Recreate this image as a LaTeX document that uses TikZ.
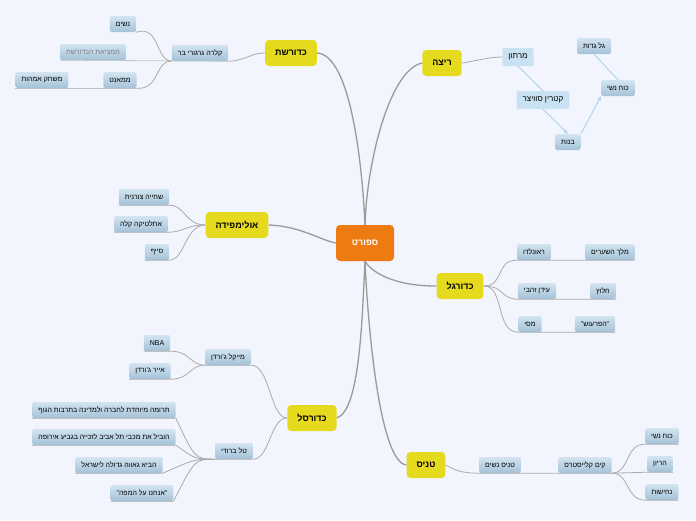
\documentclass[tikz,border=0pt]{standalone}
\usepackage{fontspec}
\setmainfont{Liberation Sans}[Script=Hebrew]
\TeXXeTstate=1
\newcommand\heb[1]{\beginR #1\endR}
\usetikzlibrary{arrows.meta}
\definecolor{bg}{HTML}{F3F5FE}
\definecolor{yel}{HTML}{E6DA1E}
\definecolor{org}{HTML}{EE7A12}
\definecolor{lb}{HTML}{C8E2F3}
\definecolor{ltop}{HTML}{D3E4F0}
\definecolor{lbot}{HTML}{A4C2D8}
\definecolor{lline}{HTML}{A9D3EC}
\definecolor{gline}{HTML}{ABABAB}
\tikzset{
 x=1pt,y=-1pt,
 center/.style={fill=org,rounded corners=4pt,minimum width=58pt,minimum height=36pt,text=white,font=\bfseries\fontsize{9}{10}\selectfont},
 main/.style={fill=yel,rounded corners=4pt,minimum height=26pt,inner xsep=10pt,font=\bfseries\fontsize{9}{10}\selectfont},
 leaf/.style={top color=ltop,bottom color=lbot,rounded corners=2pt,minimum height=16pt,inner xsep=6pt,font=\fontsize{7}{8}\selectfont},
 light/.style={fill=lb,rounded corners=2pt,minimum height=18pt,inner xsep=6pt,font=\fontsize{8}{9}\selectfont},
 conn/.style={draw=gline,line width=0.8pt},
 thick conn/.style={draw=gline!90!black,line width=1.3pt},
 uline/.style={draw=gline!70,line width=0.8pt},
 bl/.style={draw=lline,line width=0.9pt},
 bla/.style={bl,-{Stealth[length=5pt]}},
}
\begin{document}
\begin{tikzpicture}
\fill[bg] (0,0) rectangle (696,520);
\useasboundingbox (0,0) rectangle (696,520);
% center and main topics
\node[center] (c) at (365,243) {\heb{ספורט}};
\node[main] (run) at (442,63) {\heb{ריצה}};
\node[main] (kd) at (291,53) {\heb{כדורשת}};
\node[main] (ol) at (237,225) {\heb{אולימפידה}};
\node[main] (fb) at (460,286) {\heb{כדורגל}};
\node[main] (bb) at (312,418) {\heb{כדורסל}};
\node[main] (tn) at (426,465) {\heb{טניס}};
\draw[thick conn] (c.north) .. controls (367,160) and (390,70) .. (run.west);
\draw[thick conn] (c.north) .. controls (362,160) and (350,55) .. (kd.east);
\draw[thick conn] (c.west) .. controls (320,240) and (300,226) .. (ol.east);
\draw[thick conn] (c.south) .. controls (370,270) and (390,286) .. (fb.west);
\draw[thick conn] (c.south) .. controls (362,320) and (360,410) .. (bb.east);
\draw[thick conn] (c.south) .. controls (368,330) and (380,462) .. (tn.west);
% running
\node[light] (mr) at (518,57) {\heb{מרתון}};
\node[light] (kt) at (543,100) {\heb{קטרין סוויצר}};
\node[leaf] (bn) at (568,142) {\heb{בנות}};
\node[leaf] (kn) at (618,88) {\heb{כוח נשי}};
\node[leaf] (gg) at (594,46) {\heb{גל גדות}};
\draw[conn] (run.east) .. controls (480,60) and (490,57) .. (mr.west);
\draw[bl] (mr.south) -- (kt.north);
\draw[bla] (kt.south) -- (bn.north);
\draw[bla] (bn.north east) -- (kn.south west);
\draw[bl] (kn.north) -- (gg.south);
% kadureshet
\node[leaf] (kl) at (200,53) {\heb{קלרה גרגורי בר}};
\node[leaf] (ns) at (123,24) {\heb{נשים}};
\node[leaf,text=gray] (mm) at (93,52) {\heb{ממציאת הכדורשת}};
\node[leaf] (mn) at (120,80) {\heb{ממאנט}};
\node[leaf] (ma) at (42,80) {\heb{משחק אמהות}};
\draw[conn] (kd.west) .. controls (250,53) and (245,61) .. (kl.south east);
\draw[uline] (kl.south east) -- (mm.south west);
\draw[conn] (ns.south east) .. controls (160,25) and (155,60) .. (kl.south west);
\draw[conn] (mn.south east) .. controls (160,90) and (155,60) .. (kl.south west);
\draw[uline] (mn.south east) -- (ma.south west);
% olympics
\node[leaf] (sh) at (144,197) {\heb{שחייה צורנית}};
\node[leaf] (at) at (141,224) {\heb{אתלטיקה קלה}};
\node[leaf] (sf) at (157,252) {\heb{סייף}};
\draw[conn] (ol.west) .. controls (185,225) and (185,205) .. (sh.south east) -- (sh.south west);
\draw[conn] (ol.west) .. controls (185,225) and (185,232) .. (at.south east) -- (at.south west);
\draw[conn] (ol.west) .. controls (185,225) and (185,260) .. (sf.south east) -- (sf.south west);
% football
\node[leaf] (ro) at (534,252) {\heb{ראונלדו}};
\node[leaf] (mh) at (610,252) {\heb{מלך השערים}};
\node[leaf] (iz) at (537,291) {\heb{עידן זהבי}};
\node[leaf] (hl) at (603,291) {\heb{חלוץ}};
\node[leaf] (ms) at (530,324) {\heb{מסי}};
\node[leaf] (hp) at (595,324) {\heb{"הפרעוש"}};
\draw[conn] (fb.east) .. controls (505,286) and (495,260) .. (ro.south west) -- (mh.south east);
\draw[conn] (fb.east) .. controls (505,286) and (500,299) .. (iz.south west) -- (hl.south east);
\draw[conn] (fb.east) .. controls (505,286) and (495,332) .. (ms.south west) -- (hp.south east);
% basketball
\node[leaf] (mj) at (228,357) {\heb{מייקל ג'ורדן}};
\node[leaf] (nba) at (157,343) {NBA};
\node[leaf] (aj) at (150,371) {\heb{אייר ג'ורדן}};
\node[leaf] (tb) at (234,451) {\heb{טל ברודי}};
\node[leaf] (t1) at (104,410) {\heb{תרומה מיוחדת לחברה ולמדינה בתרבות הגוף}};
\node[leaf] (t2) at (104,437) {\heb{הוביל את מכבי תל אביב לזכייה בגביע אירופה}};
\node[leaf] (t3) at (119,465) {\heb{הביא גאווה גדולה לישראל}};
\node[leaf] (t4) at (142,493) {\heb{"אנחנו על המפה"}};
\draw[conn] (bb.west) .. controls (270,418) and (270,365) .. (mj.south east) -- (mj.south west);
\draw[conn] (mj.south west) .. controls (190,365) and (190,351) .. (nba.south east) -- (nba.south west);
\draw[conn] (mj.south west) .. controls (190,365) and (190,379) .. (aj.south east) -- (aj.south west);
\draw[conn] (bb.west) .. controls (270,418) and (270,459) .. (tb.south east) -- (tb.south west);
\foreach \t in {t1,t2,t3,t4}
  \draw[conn] (tb.south west) .. controls (195,459) and (195,459) .. (\t.south east) -- (\t.south west);
% tennis
\node[leaf] (tw) at (500,465) {\heb{טניס נשים}};
\node[leaf] (kc) at (585,465) {\heb{קים קלייסטרס}};
\node[leaf] (k2) at (662,436) {\heb{כוח נשי}};
\node[leaf] (hr) at (660,464) {\heb{הריון}};
\node[leaf] (nh) at (662,492) {\heb{נחישות}};
\draw[conn] (tn.east) .. controls (455,470) and (460,473) .. (tw.south west) -- (kc.south east);
\draw[conn] (kc.south east) .. controls (630,473) and (625,444) .. (k2.south west) -- (k2.south east);
\draw[conn] (kc.south east) -- (hr.south west) -- (hr.south east);
\draw[conn] (kc.south east) .. controls (630,473) and (625,500) .. (nh.south west) -- (nh.south east);
\end{tikzpicture}
\end{document}
